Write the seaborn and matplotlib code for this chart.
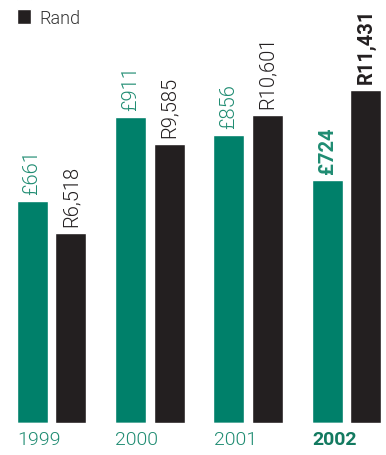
import matplotlib
matplotlib.use("Agg")
import matplotlib.pyplot as plt
import matplotlib.transforms as mtransforms
import seaborn as sns
import pandas as pd
from matplotlib.patches import Patch

years = ["1999", "2000", "2001", "2002"]
gbp = [661, 911, 856, 724]
rand = [6518, 9585, 10601, 11431]
gbp_labels = ["£661", "£911", "£856", "£724"]
rand_labels = ["R6,518", "R9,585", "R10,601", "R11,431"]

GREEN = "#00806a"
GREEN_TXT = "#1f8c72"
DARK = "#231f20"

sns.set_style("white")
plt.rcParams["font.family"] = ["Roboto", "DejaVu Sans"]

df = pd.DataFrame({
    "year": years * 2,
    "cur": ["£"] * 4 + ["Rand"] * 4,
    "value": gbp + rand,
})
df["v_gbp"] = df["value"].where(df["cur"] == "£", 0)
df["v_rand"] = df["value"].where(df["cur"] == "Rand", 0)
order = ["£", "Rand"]
pal = {"£": GREEN, "Rand": DARK}

fig = plt.figure(figsize=(3.86, 4.56), dpi=100)
ax = fig.add_axes([0, 32 / 456, 1, 424 / 456])
ax2 = ax.twinx()

sns.barplot(data=df, x="year", y="v_gbp", hue="cur", hue_order=order,
            palette=pal, ax=ax, width=0.79, gap=0.2, legend=False, saturation=1)
sns.barplot(data=df, x="year", y="v_rand", hue="cur", hue_order=order,
            palette=pal, ax=ax2, width=0.79, gap=0.2, legend=False, saturation=1)

ax.set_ylim(0, 424 / 0.336)
ax2.set_ylim(0, 424 / 0.0291)
ax.set_xlim(-51.5 / 98.33, (386 - 51.5) / 98.33)

for a in (ax, ax2):
    a.set_yticks([])
    a.set_ylabel("")
    a.set_xlabel("")
    for s in a.spines.values():
        s.set_visible(False)


def label_bars(a, labels, color):
    bars = [p for p in a.patches if p.get_height() > 0]
    bars = sorted(bars, key=lambda p: p.get_x())
    for k, (p, lab) in enumerate(zip(bars, labels)):
        bold = k == 3
        a.annotate(lab, (p.get_x() + p.get_width() / 2, p.get_height()),
                   xytext=(0, 5), textcoords="offset points",
                   rotation=90, ha="center", va="bottom", color=color,
                   fontsize=14.5, fontweight="bold" if bold else 300)


label_bars(ax, gbp_labels, GREEN_TXT)
label_bars(ax2, rand_labels, DARK)

ax.set_xticks(range(4))
ax.set_xticklabels(years, fontsize=14, color=GREEN_TXT)
ax.tick_params(axis="x", length=0, pad=5, labelbottom=True)
shift = mtransforms.ScaledTranslation(-0.345, 0, fig.dpi_scale_trans)
for k, t in enumerate(ax.get_xticklabels()):
    t.set_fontweight("bold" if k == 3 else 300)
    t.set_ha("left")
    t.set_transform(t.get_transform() + shift)
    if k == 3:
        t.set_color("#137a60")
ax2.tick_params(axis="x", length=0, labelbottom=False, labeltop=False)

handles = [Patch(facecolor=GREEN, label="£s"), Patch(facecolor=DARK, label="Rand")]
leg = fig.legend(handles=handles, loc="upper left", bbox_to_anchor=(0.045, 1.03),
                 frameon=False, fontsize=13, handlelength=0.75, handleheight=0.85,
                 handletextpad=0.45, labelspacing=0.3, borderaxespad=0, borderpad=0)
leg.get_texts()[0].set_color(GREEN_TXT)
leg.get_texts()[1].set_color("#333333")
for t in leg.get_texts():
    t.set_fontweight(300)

fig.savefig("out.png", dpi=100)
